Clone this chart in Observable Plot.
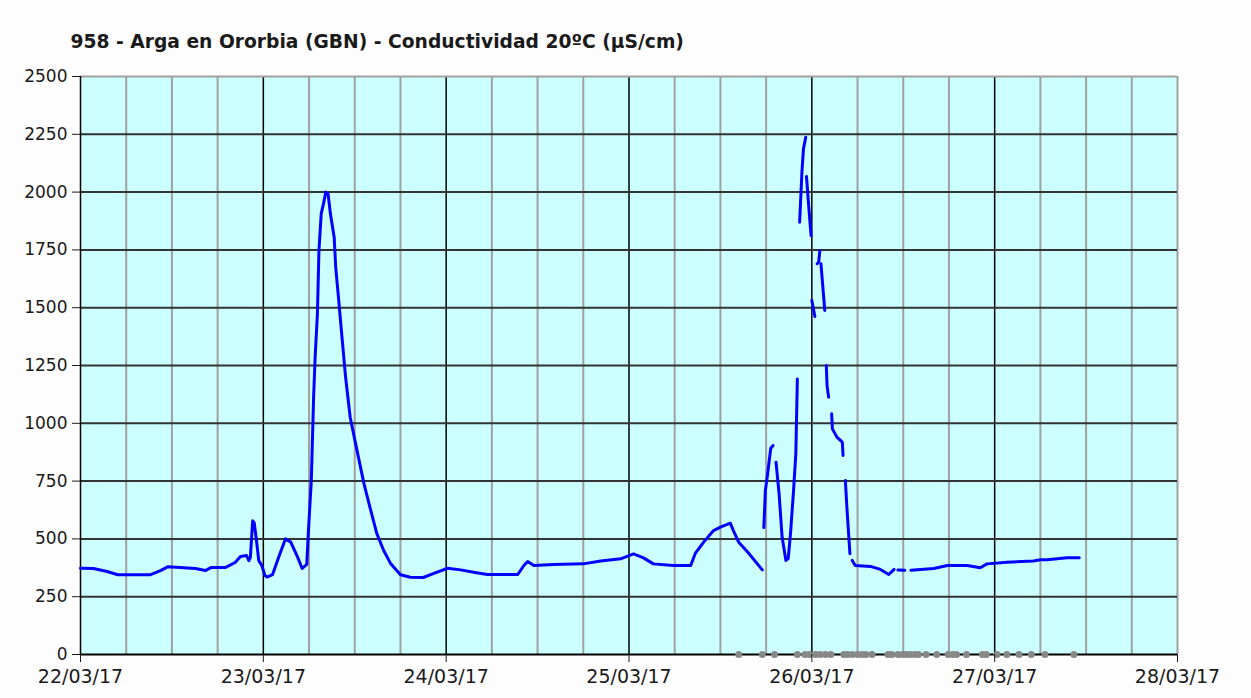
<!DOCTYPE html>
<html><head><meta charset="utf-8">
<script src="https://cdn.jsdelivr.net/npm/d3@7"></script>
<script src="https://cdn.jsdelivr.net/npm/@observablehq/plot@0.6"></script>
<style>body{margin:0;background:#fdfdfd;} svg{display:block}</style>
</head><body><div id="chart"></div>
<script>
const title = "958 - Arga en Ororbia (GBN) - Conductividad 20ºC (µS/cm)";
const startDate = "2017-03-22T00:00Z";
const dayTickLabels = ["22/03/17","23/03/17","24/03/17","25/03/17","26/03/17","27/03/17","28/03/17"];
const yTickValues = [0,250,500,750,1000,1250,1500,1750,2000,2250,2500];

// hours since 22/03/17 00:00, and conductivity values (µS/cm), one pair of arrays per unbroken stretch
const seg1Hours = [0,1.7,3.5,4.9,9.2,10.5,11.5,15.1,16.4,17.1,19.0,20.3,21.0,21.8,22.1,22.3,22.6,22.8,23.1,23.4,23.8,24.2,24.5,25.2,26.0,26.9,27.6,28.5,29.1,29.7,29.9,30.3,30.6,30.8,31.1,31.3,31.6,31.9,32.2,32.5,32.8,33.3,33.5,33.9,34.4,34.8,35.4,36.3,37.2,38.1,38.9,39.8,40.7,42.0,43.3,45.0,46.3,48.2,49.9,51.6,53.4,57.4,58.2,58.7,59.5,62.1,66.0,68.3,70.9,72.6,73.9,75.2,77.8,80.1,80.7,81.8,83.1,84.0,85.3,85.7,86.4,87.6,89.5];
const seg1Values = [373,372,359,345,345,363,380,372,363,376,376,398,424,428,406,420,578,570,493,406,385,342,335,345,420,500,486,421,372,390,523,753,1113,1286,1474,1747,1907,1950,2000,1993,1907,1805,1675,1531,1345,1199,1026,882,740,623,523,450,394,345,334,333,350,373,366,356,346,346,385,402,385,389,392,404,414,435,418,392,385,385,437,486,536,551,568,536,486,442,366];
const segAHours = [89.7,89.9,90.2,90.6,90.9];
const segAValues = [549,709,782,891,904];
const segBHours = [91.3,91.7,92.1,92.6,92.9,93.2,93.6,93.9,94.1];
const segBValues = [832,696,507,407,415,523,709,869,1192];
const segCHours = [94.4,94.7,94.9,95.2];
const segCValues = [1870,2087,2187,2237];
const segDHours = [95.3,95.6,95.9];
const segDValues = [2067,1935,1812];
const segEHours = [96.0,96.4];
const segEValues = [1531,1462];
const segFHours = [96.7,96.9,97.05];
const segFValues = [1690,1697,1747];
const segGHours = [97.2,97.5,97.7];
const segGValues = [1690,1567,1488];
const segHHours = [97.9,98.0,98.2];
const segHValues = [1250,1163,1113];
const segIHours = [98.6,98.7,99.3,100.0,100.1];
const segIValues = [1041,976,940,919,861];
const segJHours = [100.4,100.6,101.0];
const segJValues = [753,637,436];
const segK1Hours = [101.3,101.7,103.7,105.0,106.1,106.8];
const segK1Values = [407,385,381,368,346,368];
const segK2Hours = [107.3,108.2];
const segK2Values = [366,364];
const segK3Hours = [109.0,112.0,113.8,116.4,118.1,119.0,121.6,125.1,126.0,126.9,129.5,131.1];
const segK3Values = [364,372,385,385,375,392,399,404,410,410,418,418];

// hours with missing readings (grey markers on the zero line)
const gapHours = [86.4,89.5,91.1,94.1,95.1,95.7,96.5,97.1,97.8,98.5,100.2,100.7,101.3,102.0,102.6,103.1,103.9,106.0,106.5,107.3,107.9,108.4,108.9,109.5,110.0,111.0,112.4,113.9,114.5,115.0,116.3,118.4,118.9,120.3,121.6,123.2,124.8,126.6,130.4];

const t0 = new Date(startDate);
const toDate = h => new Date(t0.getTime() + h * 3600e3);
const segments = [
  ["1", seg1Hours, seg1Values], ["A", segAHours, segAValues], ["B", segBHours, segBValues],
  ["C", segCHours, segCValues], ["D", segDHours, segDValues], ["E", segEHours, segEValues],
  ["F", segFHours, segFValues], ["G", segGHours, segGValues], ["H", segHHours, segHValues],
  ["I", segIHours, segIValues], ["J", segJHours, segJValues], ["K1", segK1Hours, segK1Values],
  ["K2", segK2Hours, segK2Values], ["K3", segK3Hours, segK3Values]
];
const rows = segments.flatMap(([id, hs, vs]) => hs.map((h, i) => ({seg: id, t: toDate(h), v: vs[i]})));
const dayTicks = dayTickLabels.map((_, i) => toDate(24 * i));
const quarterTicks = d3.range(0, 6 * 24 + 1, 6).map(toDate).filter(d => (d - t0) % (24 * 3600e3) !== 0);
const labelOf = new Map(dayTicks.map((d, i) => [+d, dayTickLabels[i]]));

const chart = Plot.plot({
  width: 1251, height: 698,
  marginLeft: 80, marginRight: 74, marginTop: 76, marginBottom: 44,
  style: {fontFamily: "DejaVu Sans", background: "#fdfdfd", color: "#1a1a1a"},
  x: {type: "utc", domain: [dayTicks[0], dayTicks[dayTicks.length - 1]], label: null},
  y: {domain: [0, 2500], label: null},
  marks: [
    Plot.frame({fill: "#ccffff"}),
    Plot.ruleX(quarterTicks, {stroke: "#a0a0a0", strokeWidth: 2}),
    Plot.ruleX(dayTicks.slice(1, -1), {stroke: "#000", strokeWidth: 1.5}),
    Plot.ruleX(dayTicks.slice(-1), {stroke: "#a0a0a0", strokeWidth: 2}),
    Plot.ruleY(yTickValues.slice(1, -1), {stroke: "#333", strokeWidth: 2}),
    Plot.ruleY(yTickValues.slice(-1), {stroke: "#a0a0a0", strokeWidth: 2}),
    Plot.ruleX(dayTicks.slice(0, 1), {stroke: "#000", strokeWidth: 1.5}),
    Plot.ruleY([0], {stroke: "#000", strokeWidth: 2}),
    Plot.line(rows, {x: "t", y: "v", z: "seg", stroke: "#0000ff", strokeWidth: 3, strokeLinejoin: "round"}),
    Plot.dot(gapHours, {x: toDate, y: () => 0, r: 3.5, fill: "#888", stroke: "none"}),
    Plot.axisY({ticks: yTickValues, tickFormat: d3.format("d"), tickSize: 8, tickPadding: 5, fontSize: 17, label: null}),
    Plot.axisX({ticks: dayTicks, tickFormat: d => labelOf.get(+d), tickSize: 8, tickPadding: 7, fontSize: 19, label: null}),
    Plot.text([title], {frameAnchor: "top-left", dx: -10, dy: -29, textAnchor: "start", lineAnchor: "bottom", fontWeight: "bold", fontSize: 18.7})
  ]
});
document.getElementById("chart").appendChild(chart);
</script>
</body></html>
